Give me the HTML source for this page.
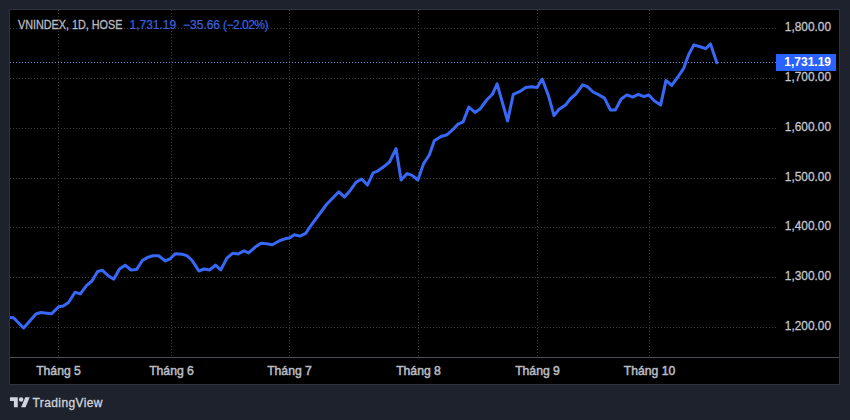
<!DOCTYPE html>
<html><head><meta charset="utf-8">
<style>
html,body{margin:0;padding:0;}
body{width:850px;height:420px;background:#1e222d;position:relative;overflow:hidden;font-family:"Liberation Sans",sans-serif;}
#box{position:absolute;left:9px;top:9px;width:829px;height:374px;border:1px solid #2f333e;background:#000;}
svg{position:absolute;left:0;top:0;}
.g{stroke:#363940;stroke-width:1;stroke-dasharray:1 2;}
.pl{position:absolute;left:769.5px;width:61px;-webkit-text-stroke:0.3px #c3c6cd;text-align:right;color:#c3c6cd;font-size:12.9px;line-height:14px;transform:scaleX(0.92);transform-origin:100% 0;}
.ml{position:absolute;top:363px;width:80px;text-align:center;color:#b8bbc2;font-size:12.2px;line-height:16px;-webkit-text-stroke:0.5px #b8bbc2;}
#legend{position:absolute;left:18px;top:17.5px;font-size:12px;line-height:14px;color:#b8bbc2;white-space:nowrap;transform:scaleX(0.9);transform-origin:0 0;-webkit-text-stroke:0.3px #b8bbc2;}
.lb{position:absolute;top:18px;font-size:12px;line-height:14px;color:#3a62e0;white-space:nowrap;-webkit-text-stroke:0.2px #3a62e0;}
#cur{position:absolute;left:776px;top:54px;width:60px;height:17px;background:#2962ff;color:#fff;font-size:12px;font-weight:bold;line-height:17px;text-align:right;box-sizing:border-box;padding-right:5px;}
#logo{position:absolute;left:10px;top:394.8px;}
#logotxt{position:absolute;left:32.5px;top:396px;font-size:12px;line-height:14px;color:#d1d4dc;letter-spacing:0.4px;-webkit-text-stroke:0.3px #d1d4dc;}
</style></head><body>
<div id="box"></div>
<svg width="850" height="420" viewBox="0 0 850 420">
<line x1="10" y1="28.5" x2="776" y2="28.5" class="g"/><line x1="10" y1="78.5" x2="776" y2="78.5" class="g"/><line x1="10" y1="128.5" x2="776" y2="128.5" class="g"/><line x1="10" y1="178.5" x2="776" y2="178.5" class="g"/><line x1="10" y1="227.5" x2="776" y2="227.5" class="g"/><line x1="10" y1="277.5" x2="776" y2="277.5" class="g"/><line x1="10" y1="327.5" x2="776" y2="327.5" class="g"/><line x1="58.5" y1="10" x2="58.5" y2="357" class="g"/><line x1="171.5" y1="10" x2="171.5" y2="357" class="g"/><line x1="289.5" y1="10" x2="289.5" y2="357" class="g"/><line x1="418.5" y1="10" x2="418.5" y2="357" class="g"/><line x1="537.5" y1="10" x2="537.5" y2="357" class="g"/><line x1="649.5" y1="10" x2="649.5" y2="357" class="g"/>
<line x1="10" y1="357.5" x2="839" y2="357.5" stroke="#4a4d55" stroke-width="1"/>
<line x1="10" y1="62.5" x2="776" y2="62.5" stroke="#7f8ad8" stroke-width="1" stroke-dasharray="1 2"/>
<defs><clipPath id="pc"><rect x="10" y="10" width="829" height="347"/></clipPath></defs><polyline clip-path="url(#pc)" points="8,317.3 13.5,317.8 23.6,328 36,314 40.7,312.5 51.4,313.8 58.9,306.7 63.2,306.1 68.5,302.5 75,292.2 80.3,293.9 86.7,285.3 92,281 97.6,271.5 102.5,270.3 108.5,276 113.8,279.1 119.5,269 125.2,265.2 131,270 136.7,269.4 142.4,260.5 147.1,257.6 152.9,255.7 158.6,255.7 165.2,260.9 169.8,259 175.5,253.7 182.1,254.3 186.9,255.6 191.7,260 195.5,265.7 198.9,271 204,269 209.8,269.9 215.5,265.1 220.8,269.9 226.9,258.1 232.6,253.3 238.3,253.9 244,250.9 248.6,252.9 255.2,247.1 261,243.3 266.7,243.7 272.4,244.7 280,240.5 285.7,238.6 289.5,238 294.3,234.8 300,236.1 305.7,233.4 310.5,226.2 326.5,204.5 338.8,191.8 344.5,197.1 350.2,190.5 356,182.3 361.7,179 367.4,185.1 373.1,172.8 376.9,171.4 382.6,167.6 389.5,162 396,148.6 401.1,180 407.1,173.6 412.1,175.4 417.9,180 423.6,163.6 429.3,155 434.3,140.7 441,136.5 447.1,134.7 452.9,129.5 457.6,124.4 463.1,121.9 468.8,107 474.9,112.4 480,109.1 486.7,100 492.4,94.3 497.1,83.8 507.6,121 513.3,94.3 520,91.4 525.7,87.6 531.4,86.7 537.1,87.6 542.2,79 548.3,95.2 554,115.6 558.8,109.5 565.5,105.1 570.2,99 576,93.9 582.6,84.8 587.4,86.7 593.1,92 597.9,94.3 604.5,98.1 610.5,110.1 615.3,110.1 621.2,99 626.9,94.9 632.6,97.1 638.3,94.3 644,96.6 648.8,94.9 654.5,101 660.6,105.1 666,80.4 671.7,85.4 678.2,76.5 683.8,68.1 688.6,54.8 693.9,44.9 700,46.8 705.7,48.7 710.5,43.9 716.8,62.8" fill="none" stroke="#3868f8" stroke-width="3" stroke-linejoin="round" stroke-linecap="round"/>
</svg>
<div id="legend">VNINDEX, 1D, HOSE</div><div class="lb" style="left:129.5px">1,731.19</div><div class="lb" style="left:183px">−35.66</div><div class="lb" style="left:223px;letter-spacing:-0.5px">(−2.02%)</div>
<div class="pl" style="top:19.9px">1,800.00</div><div class="pl" style="top:69.9px">1,700.00</div><div class="pl" style="top:119.9px">1,600.00</div><div class="pl" style="top:169.9px">1,500.00</div><div class="pl" style="top:218.9px">1,400.00</div><div class="pl" style="top:268.9px">1,300.00</div><div class="pl" style="top:318.9px">1,200.00</div>
<div id="cur">1,731.19</div>
<div class="ml" style="left:18.5px">Tháng 5</div><div class="ml" style="left:131.5px">Tháng 6</div><div class="ml" style="left:249.5px">Tháng 7</div><div class="ml" style="left:378.5px">Tháng 8</div><div class="ml" style="left:497.5px">Tháng 9</div><div class="ml" style="left:609.5px">Tháng 10</div>
<svg id="logo" width="21" height="16" viewBox="0 0 37.8 28.8"><path d="M14 22H7V11H0V4h14v18zM28 22h-8l7.5-18h8L28 22z" fill="#d1d4dc"/><circle cx="20" cy="8" r="4" fill="#d1d4dc"/></svg>
<div id="logotxt">TradingView</div>
</body></html>
